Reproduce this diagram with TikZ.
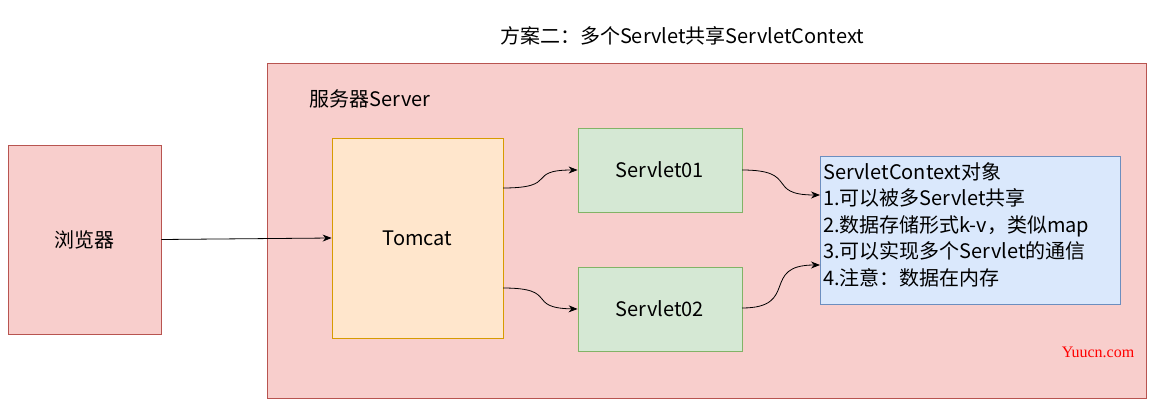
\documentclass[tikz,border=0pt]{standalone}
\usepackage{fontspec}
\setmainfont{Noto Sans CJK SC}
\newfontfamily\wm{Liberation Serif}
\usetikzlibrary{arrows.meta}
\definecolor{rf}{HTML}{F8CECC}\definecolor{rs}{HTML}{B85450}
\definecolor{of}{HTML}{FFE6CC}\definecolor{os}{HTML}{D79B00}
\definecolor{gf}{HTML}{D5E8D4}\definecolor{gs}{HTML}{82B366}
\definecolor{bf}{HTML}{DAE8FC}\definecolor{bs}{HTML}{6C8EBF}
\begin{document}
\begin{tikzpicture}[x=1pt,y=-1pt,
  box/.style={draw,line width=0.8pt,inner sep=0pt},
  lbl/.style={font=\fontsize{20}{24}\selectfont},
  arr/.style={-{Stealth[length=9pt,width=7pt]},line width=0.8pt}]
\useasboundingbox (0,0) rectangle (1160,406);
\node[lbl] (title) at (682,36) {方案二：多个Servlet共享ServletContext};
\node[box,fill=rf,draw=rs,minimum width=879pt,minimum height=335pt] (server) at (706.5,230.5) {};
\node[lbl] (slbl) at (370,99) {服务器Server};
\node[box,fill=rf,draw=rs,minimum width=153pt,minimum height=189pt,lbl] (browser) at (84.5,239.5) {浏览器};
\node[box,fill=of,draw=os,minimum width=171pt,minimum height=200pt,lbl] (tomcat) at (417.5,238) {Tomcat};
\node[box,fill=gf,draw=gs,minimum width=164pt,minimum height=84pt,lbl] (s1) at (660,170) {Servlet01};
\node[box,fill=gf,draw=gs,minimum width=164pt,minimum height=84pt,lbl] (s2) at (660,309) {Servlet02};
\node[box,fill=bf,draw=bs,minimum width=300pt,minimum height=148pt] (ctx) at (970,230) {};
\node[anchor=north west,align=left,inner sep=0pt,font=\fontsize{20}{26.5}\selectfont] (ctxt) at (823,162) {ServletContext对象\\1.可以被多Servlet共享\\2.数据存储形式k-v，类似map\\3.可以实现多个Servlet的通信\\4.注意：数据在内存};
\node[text=red,font=\wm\fontsize{16}{18}\selectfont] (wmk) at (1098,352) {Yuucn.com};
\coordinate (t1) at (503,188); \coordinate (t2) at (503,288);
\coordinate (c1) at (820,195); \coordinate (c2) at (820,265);
\coordinate (s1r) at (742,170); \coordinate (s2r) at (742,308);
\draw[arr] (browser.east) -- (tomcat.west);
\draw[arr] (t1) .. controls (560,188) and (525,170) .. (s1.west);
\draw[arr] (t2) .. controls (560,288) and (525,308) .. (s2.west);
\draw[arr] (s1r) .. controls (800,170) and (765,195) .. (c1);
\draw[arr] (s2r) .. controls (800,308) and (760,265) .. (c2);
\end{tikzpicture}
\end{document}
